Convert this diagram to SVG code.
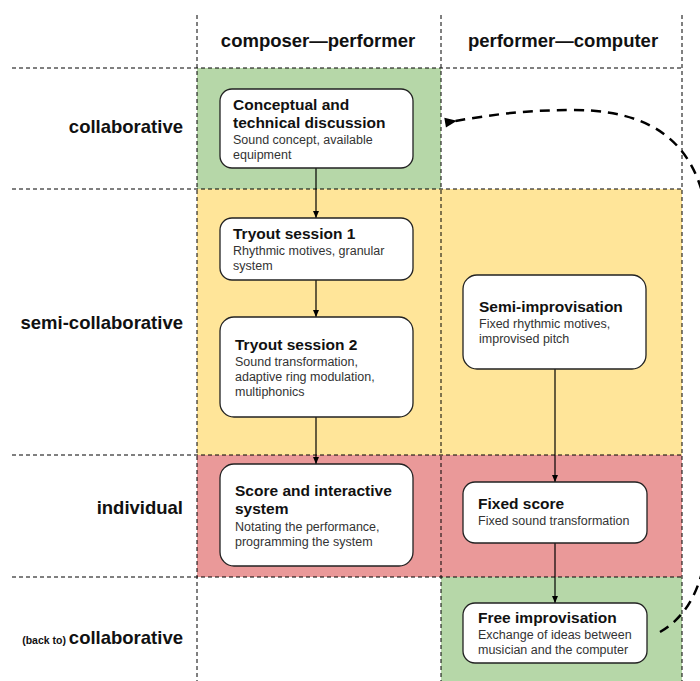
<svg xmlns="http://www.w3.org/2000/svg" width="700" height="681" viewBox="0 0 700 681">
<style>
.grid{stroke:#000;stroke-width:1;stroke-dasharray:4 3;fill:none}
.node{fill:#fff;stroke:#222;stroke-width:1.3}
.t{font-family:"Liberation Sans",Arial,sans-serif;font-weight:bold;font-size:15.5px;fill:#111}
.s{font-family:"Liberation Sans",Arial,sans-serif;font-size:12.5px;fill:#333}
.h{font-family:"Liberation Sans",Arial,sans-serif;font-weight:bold;font-size:18.5px;fill:#111}
.conn{stroke:#000;stroke-width:1.2;fill:none}
</style>
<defs>
<marker id="ah" markerWidth="8" markerHeight="8" refX="7" refY="4" orient="auto" markerUnits="userSpaceOnUse"><path d="M0,1 L7,4 L0,7 Z" fill="#000"/></marker>
<marker id="dah" markerWidth="14" markerHeight="12" refX="2" refY="6" orient="auto" markerUnits="userSpaceOnUse"><path d="M12,1 L0,6 L12,11 Z" fill="#000"/></marker>
</defs>
<g id="backgrounds">
<rect x="197" y="68" width="244" height="121" fill="#b6d7a8"/>
<rect x="197" y="189" width="485" height="266" fill="#ffe599"/>
<rect x="197" y="455" width="485" height="122" fill="#ea9999"/>
<rect x="441" y="577" width="241" height="104" fill="#b6d7a8"/>
</g>
<g id="grid">
<line class="grid" x1="197" y1="15" x2="197" y2="681"/>
<line class="grid" x1="441" y1="15" x2="441" y2="681"/>
<line class="grid" x1="682" y1="15" x2="682" y2="681"/>
<line class="grid" x1="12" y1="68" x2="682" y2="68"/>
<line class="grid" x1="12" y1="189" x2="682" y2="189"/>
<line class="grid" x1="12" y1="455" x2="682" y2="455"/>
<line class="grid" x1="12" y1="577" x2="682" y2="577"/>
</g>
<g id="labels">
<text class="h" x="318" y="47" text-anchor="middle">composer—performer</text>
<text class="h" x="563" y="47" text-anchor="middle">performer—computer</text>
<text class="h" x="183" y="133" text-anchor="end">collaborative</text>
<text class="h" x="183" y="329" text-anchor="end">semi-collaborative</text>
<text class="h" x="183" y="514" text-anchor="end">individual</text>
<text class="h" x="183" y="644" text-anchor="end"><tspan font-size="10.5px">(back to) </tspan>collaborative</text>
</g>
<g id="connectors">
<line class="conn" x1="316" y1="168" x2="316" y2="218" marker-end="url(#ah)"/>
<line class="conn" x1="316" y1="280" x2="316" y2="317" marker-end="url(#ah)"/>
<line class="conn" x1="316" y1="417" x2="316" y2="464" marker-end="url(#ah)"/>
<line class="conn" x1="555" y1="369" x2="555" y2="482" marker-end="url(#ah)"/>
<line class="conn" x1="555" y1="543" x2="555" y2="603" marker-end="url(#ah)"/>
<path d="M660,632 C695,612 710,570 710,500 L710,250 C708,170 680,110 573,110 C520,110 485,116 455,121" stroke="#000" stroke-width="2.5" stroke-dasharray="10 7" fill="none" marker-end="url(#dah)"/>
</g>
<g id="n1">
<rect class="node" x="220" y="89" width="193" height="79" rx="12"/>
<text class="t" x="233" y="110">Conceptual and</text>
<text class="t" x="233" y="128">technical discussion</text>
<text class="s" x="233" y="144">Sound concept, available</text>
<text class="s" x="233" y="159">equipment</text>
</g>
<g id="n2">
<rect class="node" x="220" y="218" width="193" height="62" rx="12"/>
<text class="t" x="233" y="239">Tryout session 1</text>
<text class="s" x="233" y="255">Rhythmic motives, granular</text>
<text class="s" x="233" y="270">system</text>
</g>
<g id="n3">
<rect class="node" x="220" y="317" width="193" height="100" rx="14"/>
<text class="t" x="235" y="350">Tryout session 2</text>
<text class="s" x="235" y="366">Sound transformation,</text>
<text class="s" x="235" y="381">adaptive ring modulation,</text>
<text class="s" x="235" y="396">multiphonics</text>
</g>
<g id="n4">
<rect class="node" x="463" y="275" width="183" height="94" rx="14"/>
<text class="t" x="479" y="312">Semi-improvisation</text>
<text class="s" x="479" y="328">Fixed rhythmic motives,</text>
<text class="s" x="479" y="343">improvised pitch</text>
</g>
<g id="n5">
<rect class="node" x="220" y="464" width="193" height="102" rx="14"/>
<text class="t" x="235" y="496">Score and interactive</text>
<text class="t" x="235" y="514">system</text>
<text class="s" x="235" y="531">Notating the performance,</text>
<text class="s" x="235" y="546">programming the system</text>
</g>
<g id="n6">
<rect class="node" x="463" y="482" width="184" height="61" rx="12"/>
<text class="t" x="478" y="509">Fixed score</text>
<text class="s" x="478" y="525">Fixed sound transformation</text>
</g>
<g id="n7">
<rect class="node" x="463" y="603" width="184" height="60" rx="12"/>
<text class="t" x="478" y="623">Free improvisation</text>
<text class="s" x="478" y="639">Exchange of ideas between</text>
<text class="s" x="478" y="654">musician and the computer</text>
</g>
</svg>
